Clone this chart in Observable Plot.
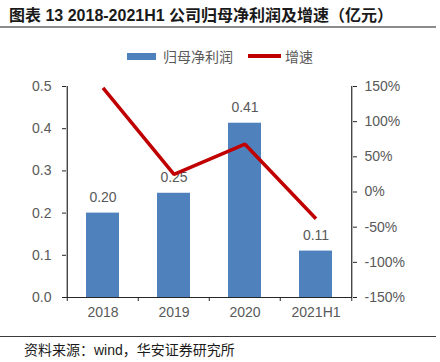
<!DOCTYPE html>
<html>
<head>
<meta charset="utf-8">
<script src="https://cdn.jsdelivr.net/npm/d3@7"></script>
<script src="https://cdn.jsdelivr.net/npm/@observablehq/plot@0.6"></script>
<style>
  html, body { margin: 0; padding: 0; background: #fff; }
  #wrap { position: relative; width: 440px; height: 362px; overflow: hidden; font-family: "Liberation Sans", "Noto Sans CJK SC", sans-serif; }
  #title { width: 436px; height: 28px; border-bottom: 2px solid #8c8c8c; box-sizing: border-box;
           font-size: 16px; font-weight: bold; color: #1a1a1a; line-height: 32px; padding-left: 9px; white-space: nowrap; overflow: visible; }
  #chart { height: 308px; }
  #chart svg { display: block; }
  #footer { border-top: 1.5px solid #3a3a3a; width: 436px; font-size: 14px; color: #1a1a1a; padding-left: 24px; box-sizing: border-box; line-height: 24px; white-space: nowrap; font-family: "Noto Sans CJK SC", sans-serif; }
  #footer .lat { font-family: "Liberation Sans", sans-serif; }
  #legend { position: absolute; top: 46px; left: 127px; font-family: "Noto Sans CJK SC", sans-serif; font-size: 14px; color: #595959; display: flex; align-items: center; white-space: nowrap; }
  #legend .sw-bar { width: 29px; height: 7px; background: #4f81bd; margin-right: 7px; }
  #legend .sw-line { width: 33px; height: 3.5px; background: #c00000; margin-left: 15px; margin-right: 4px; }
</style>
</head>
<body>
<div id="wrap">
  <div id="title">图表 13 2018-2021H1 公司归母净利润及增速（亿元）</div>
  <div id="chart"></div>
  <div id="footer">资料来源：<span class="lat">wind</span>，华安证券研究所</div>
  <div id="legend"></div>
</div>
<script>
const categories = ["2018", "2019", "2020", "2021H1"];
const profit = [0.20, 0.247, 0.413, 0.11];      // 归母净利润（亿元）
const growth = [148, 25, 68, -38];              // 增速（%）
const leftTicks = [0, 0.1, 0.2, 0.3, 0.4, 0.5];
const rightTicks = [-150, -100, -50, 0, 50, 100, 150];
const seriesNames = ["归母净利润", "增速"];

const data = categories.map((c, i) => ({cat: c, profit: profit[i], growth: growth[i]}));
const toLeft = g => (g + 150) / 600;
const fromLeft = v => Math.round(v * 600 - 150);

const W = 440, H = 308, mT = 58, mB = 39, mL = 66, mR = 88;
const step = (W - mL - mR) / categories.length;
const plotH = H - mT - mB;
const axisColor = "#262626";
const textColor = "#595959";

const chart = Plot.plot({
  width: W, height: H,
  marginTop: mT, marginBottom: mB, marginLeft: mL, marginRight: mR,
  style: {fontFamily: "'Liberation Sans', Arial, sans-serif", fontSize: "14px", color: textColor, background: "transparent"},
  x: {domain: categories, paddingInner: 0.54, paddingOuter: 0.27, axis: null},
  y: {domain: [0, 0.5], axis: null},
  marks: [
    Plot.barY(data, {x: "cat", y: "profit", fill: "#4f81bd"}),
    Plot.text(data, {x: "cat", y: "profit", text: d => d.profit.toFixed(2), dy: -16, fill: textColor, fontSize: 14}),
    Plot.line(data, {x: "cat", y: d => toLeft(d.growth), stroke: "#c00000", strokeWidth: 3.5, strokeLinejoin: "miter", strokeLinecap: "butt"}),
    Plot.ruleY([0], {stroke: axisColor, strokeWidth: 1.2}),
    Plot.ruleX([categories[0]], {y1: 0, y2: 0.5, dx: -step / 2, stroke: axisColor, strokeWidth: 1.2}),
    Plot.ruleX([categories[categories.length - 1]], {y1: 0, y2: 0.5, dx: step / 2, stroke: axisColor, strokeWidth: 1.2}),
    Plot.ruleX(categories, {dx: -step / 2, insetTop: plotH, insetBottom: -4, stroke: axisColor}),
    Plot.ruleX([categories[categories.length - 1]], {dx: step / 2, insetTop: plotH, insetBottom: -4, stroke: axisColor}),
    Plot.axisY(leftTicks, {anchor: "left", tickSize: 4, tickPadding: 11, tickFormat: d3.format(".1f"), label: null, stroke: axisColor, fill: textColor}),
    Plot.axisY(rightTicks.map(toLeft), {anchor: "right", tickSize: 4, tickPadding: 8, tickFormat: v => fromLeft(v) + "%", label: null, stroke: axisColor, fill: textColor}),
    Plot.axisX({tickSize: 0, tickPadding: 10, label: null, fill: textColor})
  ]
});
document.getElementById("chart").appendChild(chart);

const lg = document.getElementById("legend");
lg.innerHTML = `<div class="sw-bar"></div><span>${seriesNames[0]}</span><div class="sw-line"></div><span>${seriesNames[1]}</span>`;
</script>
</body>
</html>
